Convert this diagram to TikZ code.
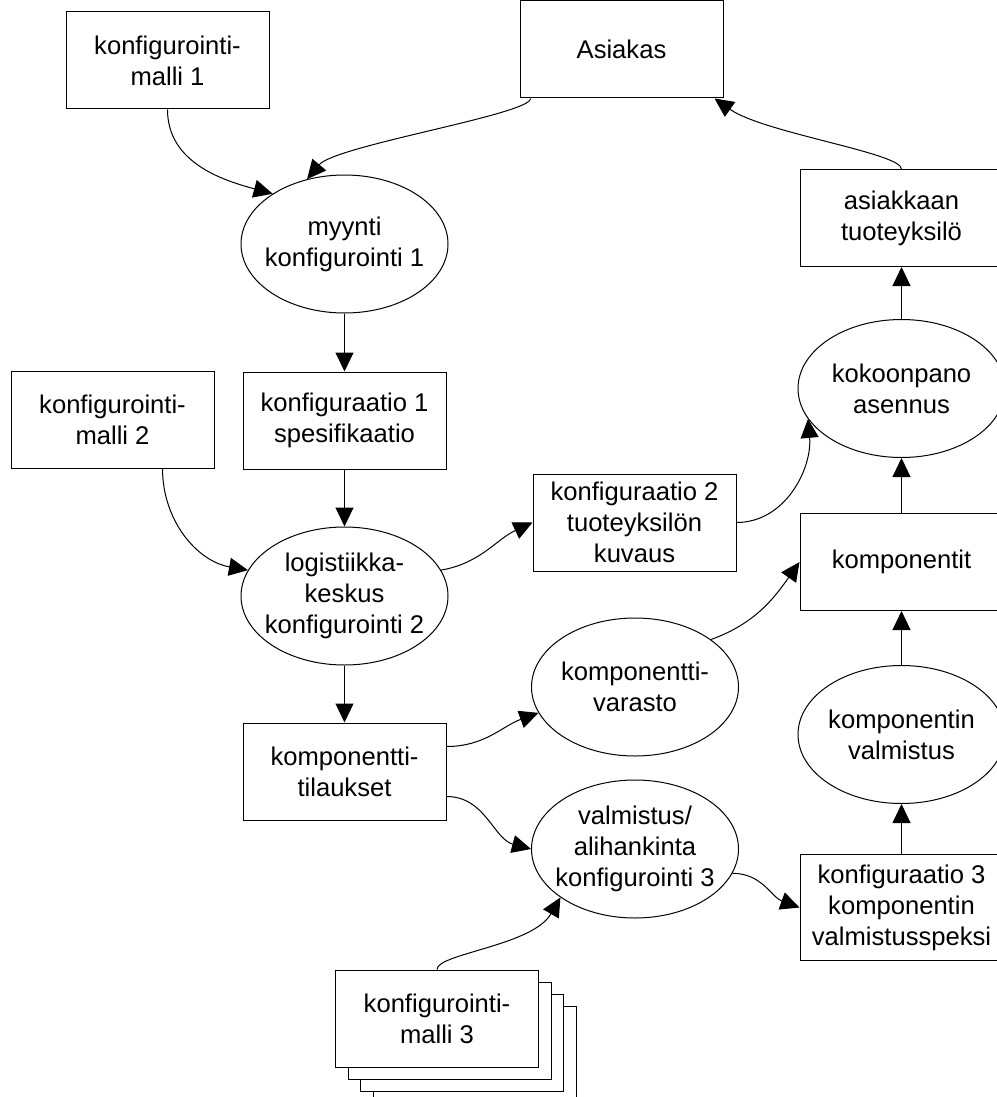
\documentclass[tikz,border=0pt]{standalone}
\usepackage{fontspec}
\setmainfont{Liberation Sans}
\usetikzlibrary{arrows.meta,positioning,shapes.geometric}

\tikzset{
  box/.style={draw,rectangle,align=center,inner sep=0pt,minimum width=101.5pt,minimum height=48.5pt},
  proc/.style={draw,ellipse,align=center,inner xsep=-4pt,inner ysep=0pt,minimum width=103.5pt,minimum height=69pt},
  flow/.style={-{Triangle[length=9.5pt,width=9pt]},line width=0.5pt}
}

\begin{document}
\begin{tikzpicture}[x=0.5pt,y=0.5pt,line width=0.5pt,every node/.style={font=\fontsize{12.8}{15.5}\selectfont}]
\useasboundingbox (0,0) rectangle (996,-1097);
% vasen sarake
\node[box] (km1) at (167.5,-60.5) {konfigurointi-\\malli 1};
\node[box] (asiakas) at (621.5,-49.5) {Asiakas};
\node[proc] (myynti) at (344.5,-244) {myynti\\konfigurointi 1};
\node[box,below=29pt of myynti] (konf1) {konfiguraatio 1\\spesifikaatio};
\node[box] (km2) at (112.5,-419.5) {konfigurointi-\\malli 2};
\node[proc,below=28.5pt of konf1] (logist) {logistiikka-\\keskus\\konfigurointi 2};
\node[box,below=28.5pt of logist] (tilaukset) {komponentti-\\tilaukset};
% keskisarake
\node[box] (konf2) at (634.5,-522.5) {konfiguraatio 2\\tuoteyksilön\\kuvaus};
\node[proc] (varasto) at (635,-687) {komponentti-\\varasto};
\node[proc] (valm) at (635,-849) {valmistus/\\alihankinta\\konfigurointi 3};
% oikea sarake
\node[box] (tuote) at (901.5,-218) {asiakkaan\\tuoteyksilö};
\node[proc,below=26pt of tuote] (kokoon) {kokoonpano\\asennus};
\node[box,below=27.5pt of kokoon] (komp) {komponentit};
\node[proc,below=27pt of komp] (kvalm) {komponentin\\valmistus};
\node[box,below=25pt of kvalm,minimum height=53pt] (konf3) {konfiguraatio 3\\komponentin\\valmistusspeksi};
% mallipino
\foreach \k in {3,2,1}
  \node[box,fill=white] (km3s\k) at ({437+12.7*\k},{-1018.5-12*\k}) {};
\node[box,fill=white] (km3) at (437,-1018.5) {konfigurointi-\\malli 3};

\draw[flow] (km1.south) to[out=-90,in=165] (myynti.145);
\draw[flow] ([xshift=5.5pt]asiakas.south west) to[out=-90,in=50,out distance=8pt,in distance=22pt] (myynti.120);
\draw[flow] (myynti) -- (konf1);
\draw[flow] (konf1) -- (logist);
\draw[flow] ([xshift=25pt]km2.south) to[out=-90,in=170] (logist.165);
\draw[flow] (logist.15) to[out=10,in=205] (konf2.west);
\draw[flow] (konf2.east) to[out=0,in=-85] (kokoon.198);
\draw[flow] (logist) -- (tilaukset);
\draw[flow] ([yshift=12.5pt]tilaukset.east) to[out=0,in=200] (varasto.195);
\draw[flow] ([yshift=-12.5pt]tilaukset.east) to[out=0,in=165] (valm.west);
\draw[flow] (km3.north) to[out=90,in=240,out distance=8pt] (valm.213);
\draw[flow] (valm.-14) to[out=0,in=160] (konf3.west);
\draw[flow] (varasto.32) to[out=20,in=235] (komp.west);
\draw[flow] (konf3) -- (kvalm);
\draw[flow] (kvalm) -- (komp);
\draw[flow] (komp) -- (kokoon);
\draw[flow] (kokoon) -- (tuote);
\draw[flow] (tuote.north) to[out=90,in=-35,out distance=8pt,in distance=30pt] ([xshift=-4.5pt]asiakas.south east);
\end{tikzpicture}
\end{document}
